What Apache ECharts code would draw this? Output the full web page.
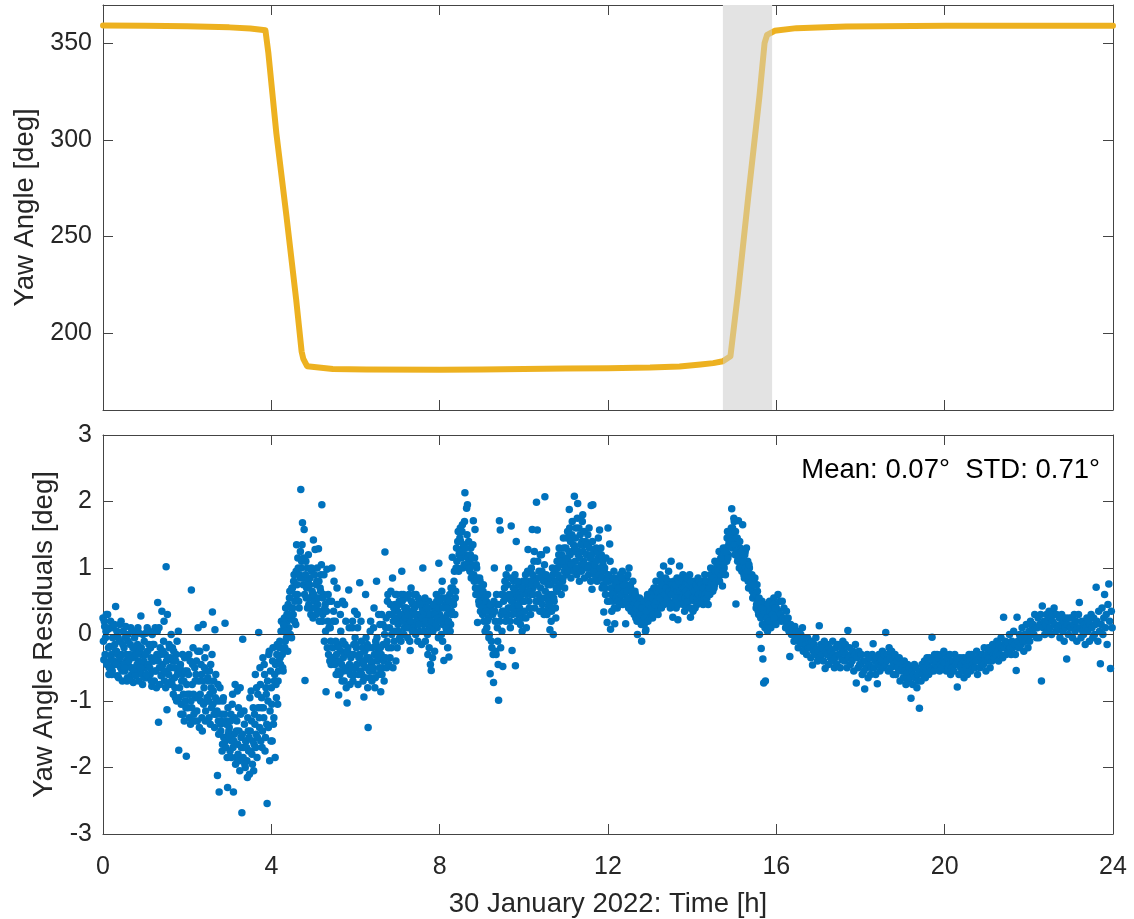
<!DOCTYPE html>
<html>
<head>
<meta charset="utf-8">
<title>Yaw angle and residuals, 30 January 2022</title>
<script src="https://cdn.jsdelivr.net/npm/echarts@6/dist/echarts.min.js"></script>
<style>
  html, body { margin: 0; padding: 0; background: #ffffff; }
  #chart { width: 1134px; height: 919px; }
</style>
</head>
<body>
<div id="chart"></div>
<script>
// ---- Yaw angle trace (hours, degrees) ----
const yawTimes = [0, 1, 2, 3, 3.5, 3.86, 3.93, 4.12, 4.36, 4.59, 4.72, 4.76, 4.85, 5.46, 6.26, 8, 9, 10, 11, 12, 13, 13.7, 14.2, 14.5, 14.73, 14.91, 15.09, 15.33, 15.6, 15.72, 15.78, 15.96, 16.48, 17.66, 20.04, 22, 24];
const yawValues = [359.4, 359.3, 359.0, 358.4, 357.8, 356.9, 345, 303.4, 260.4, 217.3, 190.3, 186.5, 182.7, 181.3, 181.0, 180.9, 181.0, 181.2, 181.5, 181.7, 182.0, 182.6, 183.6, 184.3, 185.3, 187.9, 221, 270, 323, 350.2, 354.5, 356.6, 358.0, 358.8, 359.2, 359.2, 359.3];

// Shaded interval (hours)
const bandStart = 14.73;
const bandEnd = 15.9;

// ---- Yaw angle residuals (deg) ----
// Main samples every 0.02 h starting on the hour (one row per hour).
const residualStep = 0.02;
const residuals00to04 = [
  0.25,-0.38,0.12,-0.05,0.3, -0.42,0.08,-0.6,-0.18,0.2, -0.3,-0.55,0.1,-0.45,-0.15, 0.42,-0.25,-0.62,-0.05,-0.4, 0.15,-0.5,-0.3,-0.7,0.05, -0.2,-0.55,0.12,-0.4,-0.65, -0.1,-0.48,-0.3,0.1,-0.6, -0.35,-0.72,0.05,-0.5,-0.25, -0.6,-0.15,-0.4,0.02,-0.55, 0.28,-0.3,-0.75,-0.45,-0.1,
  -0.5,0.02,-0.65,-0.25,-0.45, 0.05,-0.6,-0.35,-0.78,-0.15, -0.4,-0.7,0.1,-0.55,-0.3, 0.48,-1.32,-0.5,-0.2,-0.62, 0.35,-0.45,-0.1,-0.7,-0.3, 1.02,-1.13,-0.35,-0.6,-0.2, -0.5,0.0,-0.75,-0.4,-0.25, -0.65,-0.95,-0.3,-0.1,-0.55, -1.74,-0.8,-0.45,-1.05,-0.6, -1.2,-0.7,-0.35,-1.0,-1.83,
  -0.55,-1.1,-0.3,-0.9,-1.35, 0.67,-0.75,-0.2,-1.2,-0.5, -0.95,-0.4,-1.3,0.1,-0.7, -0.25,-1.0,-0.6,-1.45,0.15, -0.8,-0.35,-1.15,-0.55,-1.0, -0.7,-1.25,-0.9,-0.45,-1.1, 0.34,-0.85,-1.2,0.07,-0.6, -1.0,-2.12,-1.3,-2.37,-0.8, -1.45,-1.2,-1.65,-0.95,-1.55, 0.17,-1.7,-1.3,-2.3,-1.5,
  -1.4,-1.75,-1.2,-1.6,-0.9, -2.37,-1.5,-0.75,-1.85,-1.3, -1.65,-1.1,-1.9,-0.8,-1.55, -2.68,-0.07,-1.7,-1.35,-2.0, -1.6,-1.9,-1.25,-1.75,-2.1, -1.45,-0.85,-1.8,-1.6,-2.05, -1.2,-0.6,-1.5,-1.85,-0.9, 0.03,-1.4,-0.75,-1.1,-1.7, -0.35,-1.25,-0.6,-1.55,-0.9, -2.54,-1.0,-0.3,-1.9,-0.55
];
const residuals04to08 = [
  -0.8,-1.6,-0.2,-1.25,-0.6, -0.45,-0.95,-0.15,-0.7,-0.4, -0.1,-0.45,0.2,-0.3,-0.55, 0.1,-0.2,0.4,-0.05,0.2, 0.45,0.1,0.65,0.25,-0.05, 0.7,0.3,0.9,0.5,0.15, 1.35,0.6,1.0,0.4,0.85, 2.18,1.1,1.68,0.75,1.58, -0.69,1.1,0.7,0.4,1.2, 0.55,0.85,0.3,0.95,0.6,
  1.42,0.5,1.28,0.3,0.8, 0.45,1.29,0.2,0.7,0.9, 1.95,0.3,0.6,-0.1,0.45, -0.86,0.98,0.2,-0.3,0.5, 0.1,-0.45,1.0,-0.2,0.35, -0.35,0.2,-0.6,0.7,-0.15, -0.91,-0.4,0.3,-0.25,-0.7, -0.1,-0.55,0.45,-0.3,-0.8, -1.03,-0.2,0.67,-0.45,-0.6, -0.3,0.1,-0.7,-0.15,0.35,
  -0.5,-0.2,0.3,-0.75,-0.35, 0.78,-0.55,-0.1,-0.4,-0.7, -0.94,-0.25,0.6,-0.5,-0.15, -1.4,-0.35,-0.65,0.2,-0.45, -0.2,-0.55,0.4,-0.8,-0.1, 0.8,-0.4,-0.25,-0.6,0.15, -0.86,0.3,-0.5,-0.15,-0.7, 1.24,0.1,-0.5,0.5,-0.2, 0.3,-0.35,0.65,0.0,0.85, 0.2,-0.1,0.45,-0.4,0.6,
  0.35,0.05,0.5,0.2,-0.1, 0.95,0.3,0.6,0.1,0.4, 0.2,0.55,-0.05,0.35,0.15, -0.24,0.7,0.3,0.45,0.1, 0.4,0.15,0.6,0.25,-0.1, 0.3,0.05,0.5,0.2,0.4, 1.0,0.15,0.45,-0.1,0.3, 0.25,-0.3,0.5,0.1,-0.45, -0.54,0.3,0.05,0.4,-0.25, 0.35,0.6,0.1,0.45,1.07
];
const residuals08to12 = [
  0.3,0.55,0.0,0.8,0.15, -0.39,0.2,0.45,0.05,0.3, 0.4,-0.34,0.6,0.15,0.35, 1.16,0.5,0.8,0.3,0.65, 1.3,1.0,1.55,1.2,1.45, 1.4,1.15,1.65,1.3,1.05, 2.13,1.2,1.9,1.95,1.0, 1.1,0.95,1.3,1.05,0.9, 1.71,0.8,1.58,0.6,1.0, 0.18,0.65,0.45,0.8,0.55,
  0.55,0.3,0.75,0.45,0.05, 0.4,0.1,0.6,0.25,0.0, -0.59,0.4,-0.2,0.3,-0.72, 1.0,0.2,-0.3,0.45,-0.1, -0.99,1.71,1.57,0.3,0.05, -0.48,0.5,0.7,0.3,0.9, 0.55,0.3,1.0,0.4,0.1, 1.63,-0.24,0.6,0.8,0.35, -0.47,1.4,0.55,0.3,0.75, 0.4,0.15,0.6,0.05,0.8,
  0.65,0.35,0.9,0.1,0.75, 1.28,0.5,0.8,0.3,1.0, 1.58,0.7,1.1,0.4,0.85, 1.99,1.57,0.6,0.95,0.35, 0.7,1.2,0.45,0.9,0.3, 2.07,0.55,1.27,0.8,0.4, 0.6,0.07,0.85,0.35,1.0, 0.0,0.5,0.8,0.25,0.65, 1.0,0.7,1.3,0.85,1.1, 1.2,0.8,1.45,0.95,1.05,
  1.3,0.9,1.55,1.1,1.88, 1.2,0.85,1.5,1.0,1.35, 2.08,1.1,1.6,0.9,1.97, 1.25,0.8,1.5,1.05,1.4, 1.8,1.1,0.85,1.35,1.0, 1.2,1.5,0.9,1.3,1.05, 1.94,0.68,1.95,1.1,0.9, 1.0,1.3,0.8,1.15,0.95, 1.57,0.9,1.2,0.7,1.05, 0.34,1.0,0.6,0.85,0.18
];
const residuals12to16 = [
  1.6,0.8,1.36,0.08,0.6, 0.7,0.5,0.95,0.16,0.8, 0.65,0.4,0.85,0.55,0.75, 0.7,0.5,0.95,0.6,0.8, 0.6,0.16,0.85,0.45,0.7, 1.0,0.5,0.7,0.4,0.6, 0.45,0.3,0.65,0.25,0.5, 0.0,0.35,0.5,0.2,0.4, -0.1,0.3,0.45,0.15,0.35, 0.07,0.4,0.6,0.3,0.5,
  0.45,0.3,0.65,0.25,0.5, 0.55,0.4,0.8,0.35,0.6, 0.6,0.45,0.9,0.5,0.75, 0.65,1.03,0.5,0.8,0.55, 0.7,0.5,0.95,0.6,0.4, 1.1,0.65,0.26,0.8,0.5, 0.6,0.4,0.85,0.22,0.7, 1.03,0.6,0.75,0.5,0.9, 0.6,0.35,0.8,0.45,0.7, 0.65,0.5,0.9,0.26,0.7,
  0.6,0.35,0.8,0.5,0.7, 0.65,0.45,0.85,0.55,0.75, 0.65,0.5,0.8,0.45,0.7, 0.9,0.5,0.65,0.75,0.45, 0.8,0.6,1.0,0.7,0.9, 0.9,0.7,1.1,0.8,1.0, 1.0,0.85,1.25,0.9,1.15, 1.1,0.73,1.3,1.0,1.2, 1.3,1.1,1.55,1.2,1.4, 1.5,1.35,1.89,1.6,1.45,
  1.7,1.2,0.46,1.4,1.1, 1.71,1.0,1.3,1.15,0.95, 1.65,1.05,0.85,1.25,0.95, 0.9,1.1,0.7,1.0,0.8, 0.7,0.9,0.55,0.8,0.6, 0.55,0.4,0.75,0.5,0.3, 0.0,0.35,-0.21,0.5,-0.37, -0.73,0.3,-0.7,0.45,0.2, 0.3,0.15,0.5,0.25,0.4, 0.35,0.2,0.55,0.3,0.45
];
const residuals16to20 = [
  0.4,0.25,0.6,0.35,0.5, 0.3,0.2,0.5,0.25,0.4, 0.2,0.1,0.35,0.15,0.25, 0.05,-0.33,0.15,0.0,0.1, 0.0,-0.1,0.12,-0.05,0.05, -0.07,-0.2,0.05,-0.12,0.0, -0.13,0.1,-0.25,-0.05,-0.2, -0.15,-0.3,-0.05,-0.2,-0.1, -0.2,-0.35,-0.1,-0.46,-0.25, -0.15,-0.3,-0.05,-0.22,-0.4,
  -0.25,0.13,-0.35,-0.15,-0.3, -0.2,-0.4,-0.1,-0.51,-0.25, -0.3,-0.15,-0.45,-0.2,-0.35, -0.25,-0.4,-0.1,-0.3,-0.5, -0.35,-0.2,-0.45,-0.15,-0.3, -0.3,-0.5,-0.2,-0.38,-0.1, -0.25,-0.4,-0.15,-0.3,-0.5, 0.06,-0.35,-0.2,-0.45,-0.3, -0.4,-0.25,-0.55,-0.3,-0.15, -0.73,-0.35,-0.5,-0.25,-0.45,
  -0.45,-0.3,-0.6,-0.4,-0.55, -0.82,-0.4,-0.5,-0.3,-0.65, -0.45,-0.35,-0.6,-0.5,-0.3, -0.14,-0.5,-0.4,-0.6,-0.35, -0.74,-0.45,-0.3,-0.55,-0.4, -0.38,-0.25,-0.5,-0.3,-0.45, 0.03,-0.4,-0.3,-0.55,-0.2, -0.35,-0.5,-0.25,-0.4,-0.6, -0.45,-0.3,-0.6,-0.4,-0.5, -0.5,-0.35,-0.7,-0.45,-0.55,
  -0.5,-0.65,-0.4,-0.55,-0.75, -0.58,-0.45,-0.7,-0.5,-0.65, -0.96,-0.55,-0.75,-0.6,-0.45, -0.65,-0.5,-0.8,-0.6,-0.7, -1.11,-0.55,-0.7,-0.45,-0.6, -0.5,-0.4,-0.65,-0.55,-0.35, -0.45,-0.6,-0.35,-0.5,-0.55, -0.04,-0.4,-0.55,-0.3,-0.45, -0.4,-0.3,-0.5,-0.35,-0.55, -0.45,-0.3,-0.5,-0.4,-0.25
];
const residuals20to24 = [
  -0.42,-0.3,-0.55,-0.35,-0.5, -0.45,-0.3,-0.6,-0.4,-0.5, -0.4,-0.55,-0.3,-0.45,-0.35, -0.79,-0.45,-0.6,-0.35,-0.5, -0.45,-0.55,-0.35,-0.65,-0.4, -0.5,-0.35,-0.6,-0.45,-0.3, -0.4,-0.55,-0.3,-0.45,-0.5, -0.35,-0.5,-0.4,-0.25,-0.6, -0.4,-0.3,-0.5,-0.35,-0.45, -0.3,-0.45,-0.2,-0.35,-0.55,
  -0.3,-0.4,-0.2,-0.35,-0.5, -0.25,-0.4,-0.15,-0.3,-0.35, -0.2,-0.3,-0.1,-0.25,-0.4, -0.15,-0.3,-0.05,-0.2,-0.35, 0.26,-0.2,-0.1,-0.3,-0.15, -0.12,-0.25,0.0,-0.2,-0.3, -0.1,-0.2,0.05,-0.15,-0.3, -0.54,0.26,-0.1,-0.2,0.0, -0.05,-0.15,0.1,-0.1,-0.25, 0.0,-0.1,0.15,-0.05,-0.2,
  0.05,-0.1,0.2,0.0,0.1, 0.15,0.0,0.3,0.1,-0.05, 0.1,0.25,-0.05,0.15,0.3, -0.7,0.43,0.1,0.2,0.0, 0.15,0.3,0.05,0.2,0.35, 0.1,0.25,0.0,0.2,0.3, 0.4,0.15,0.05,0.3,0.1, 0.1,0.25,-0.05,0.15,0.3, 0.05,0.2,-0.1,0.1,0.25, -0.37,0.15,0.0,0.25,0.1,
  0.1,0.25,-0.05,0.15,0.3, 0.05,0.2,-0.1,0.1,0.3, 0.48,0.1,-0.05,0.2,0.05, 0.0,0.15,-0.15,0.1,0.25, 0.05,0.2,-0.1,0.15,0.3, 0.1,-0.05,0.25,0.0,0.15, 0.71,0.2,-0.1,0.35,0.05, -0.44,0.15,0.4,0.0,0.25, 0.6,0.1,0.3,-0.15,0.45, 0.76,0.2,-0.51,0.35,0.1
];

// Intermediate samples, offset by 0.01 h from the main grid (0-16 h).
const interleaveOffset = 0.01;
const residualsMid00to04 = [
  -0.1,0.2,-0.3,0.05,-0.45, 0.3,-0.2,-0.5,0.1,-0.35, -0.6,-0.05,-0.4,0.15,-0.25, -0.45,0.05,-0.3,-0.65,-0.1, -0.35,0.2,-0.55,-0.15,-0.45, -0.5,-0.05,-0.3,-0.7,0.0, -0.4,-0.68,-0.15,-0.5,0.05, -0.2,-0.55,-0.05,-0.62,-0.3, -0.45,0.1,-0.7,-0.25,-0.5, -0.2,-0.6,0.0,-0.4,-0.65,
  -0.3,-0.6,0.1,-0.45,-0.15, -0.5,-0.2,-0.7,0.0,-0.4, -0.15,-0.55,-0.35,-0.8,0.05, -0.4,0.1,-0.75,-0.3,-0.5, -0.6,-0.25,0.2,-0.55,-0.8, -0.4,0.3,-0.75,-0.15,-0.5, -0.35,-0.7,-0.2,-0.9,-0.5, -0.8,-0.4,-1.0,-0.6,0.05, -0.95,-0.5,-1.2,-0.7,-0.3, -0.9,-1.3,-0.55,-1.1,-0.75,
  -0.9,-0.6,-1.25,-0.4,-1.0, -1.1,-0.45,-0.9,-1.3,-0.7, -0.6,-1.15,-0.25,-0.95,-1.4, -0.9,-0.45,-1.25,-0.7,-1.05, -0.5,-1.3,-0.2,-0.95,-0.65, -1.0,-0.55,-1.35,-0.8,-0.3, -1.05,-0.7,-1.4,-0.95,-1.2, -1.15,-0.75,-1.5,-1.0,-1.35, -1.3,-1.75,-1.0,-1.55,-1.2, -1.6,-1.35,-1.85,-1.1,-1.45,
  -1.55,-1.3,-1.85,-1.05,-1.7, -1.6,-1.25,-1.95,-1.45,-0.85, -1.8,-1.45,-2.05,-1.2,-1.7, -1.5,-1.85,-1.15,-1.95,-1.6, -1.7,-2.15,-1.45,-1.55,-0.95, -1.75,-1.3,-1.95,-1.1,-1.65, -1.35,-1.7,-0.8,-1.55,-1.1, -1.25,-0.5,-1.6,-0.95,-1.45, -1.1,-0.45,-1.75,-0.8,-1.35, -0.7,-1.4,-0.25,-1.15,-1.6
];
const residualsMid04to08 = [
  -1.05,-0.4,-1.35,-0.7,-1.85, -0.75,-0.3,-1.05,-0.55,-0.2, -0.35,0.05,-0.2,-0.5,0.15, 0.25,-0.1,0.05,0.3,-0.25, 0.3,0.55,0.0,0.4,0.7, 0.4,0.8,0.2,0.6,0.95, 0.75,1.15,0.5,0.9,1.25, 1.0,1.35,0.85,1.15,0.6, 0.9,0.55,1.0,0.8,0.45, 0.75,0.4,1.0,0.65,0.25,
  0.6,0.9,0.4,0.75,1.0, 0.55,0.8,0.35,0.65,1.05, 0.2,0.55,0.9,0.4,0.05, 0.35,-0.2,0.6,0.1,-0.4, -0.1,0.5,-0.35,0.2,0.8, -0.45,-0.1,-0.3,0.45,-0.55, -0.2,-0.6,0.05,-0.45,0.5, -0.35,-0.7,-0.15,0.2,-0.5, -0.25,-0.55,0.1,-0.75,-0.35, -0.5,0.2,-0.3,-0.6,-0.05,
  -0.15,-0.45,0.1,-0.6,-0.3, -0.3,0.2,-0.6,-0.2,-0.45, -0.4,-0.65,-0.05,-0.35,-0.8, -0.2,-0.55,0.05,-0.4,-0.7, -0.5,0.1,-0.3,-0.65,-0.15, -0.05,-0.35,0.3,-0.5,-0.2, -0.3,-0.6,0.15,-0.4,0.0, -0.35,0.25,-0.1,0.6,-0.45, 0.1,0.45,-0.2,0.3,-0.5, 0.4,0.05,0.6,0.25,-0.2,
  0.15,0.45,-0.05,0.3,0.6, 0.5,0.2,0.0,0.4,0.25, 0.4,0.1,0.3,0.6,-0.1, 0.2,0.5,0.05,0.35,0.6, 0.3,0.0,0.45,0.2,0.55, 0.15,0.45,0.3,-0.15,0.25, 0.35,0.05,0.55,0.2,0.4, 0.0,0.4,-0.2,0.3,0.15, 0.2,-0.35,0.45,0.1,0.3, 0.15,0.5,0.25,-0.05,0.4
];
const residualsMid08to12 = [
  0.5,0.2,0.65,-0.1,0.4, 0.25,0.55,0.1,0.4,-0.2, 0.2,0.5,0.05,0.7,0.3, 0.7,0.45,0.95,0.55,1.0, 1.1,1.4,0.95,1.25,1.6, 1.25,1.55,1.0,1.35,1.7, 1.3,1.05,1.5,1.15,1.4, 1.0,1.2,0.85,1.15,1.35, 0.9,1.15,0.7,1.05,0.85, 0.7,0.5,0.85,0.35,0.6,
  0.4,0.65,0.2,0.55,0.35, 0.5,0.2,0.35,-0.05,0.45, 0.45,-0.1,0.35,-0.3,0.5, 0.35,-0.25,0.6,0.1,-0.45, 0.45,0.2,-0.2,0.6,0.35, 0.6,0.35,0.8,0.2,0.55, 0.75,0.4,0.6,0.2,0.85, 0.5,0.3,0.7,0.45,0.9, 0.65,0.2,0.8,0.45,0.6, 0.55,0.3,0.7,0.25,0.5,
  0.5,0.8,0.25,0.6,0.95, 0.65,0.4,0.95,0.6,0.75, 0.9,0.6,1.25,0.8,0.5, 0.75,1.1,0.5,0.85,1.2, 0.55,0.95,0.35,0.8,1.05, 0.65,0.9,0.3,0.75,0.5, 0.45,0.75,0.2,0.6,0.9, 0.55,0.95,0.4,0.7,1.1, 0.9,1.2,0.75,1.05,0.6, 1.1,0.85,1.3,0.7,1.0,
  1.15,1.45,0.95,1.25,1.6, 1.4,1.05,1.7,1.25,0.95, 1.3,1.45,1.0,1.75,1.2, 1.6,1.15,1.35,0.95,1.7, 1.25,1.55,1.05,1.4,1.2, 1.35,1.0,1.6,1.15,0.8, 1.2,1.4,0.95,1.25,1.05, 1.1,0.85,1.25,1.45,0.9, 1.0,1.3,0.85,1.1,0.75, 0.95,0.7,1.15,0.8,0.5
];
const residualsMid12to16 = [
  0.9,0.5,1.1,0.7,0.35, 0.6,0.85,0.4,0.75,0.55, 0.8,0.5,0.7,0.45,0.9, 0.6,0.85,0.45,0.75,0.65, 0.75,0.5,0.65,0.9,0.4, 0.55,0.75,0.35,0.65,0.8, 0.55,0.35,0.6,0.4,0.2, 0.45,0.25,0.55,0.3,0.15, 0.4,0.2,0.5,0.25,0.05, 0.35,0.55,0.2,0.45,0.6,
  0.6,0.4,0.55,0.3,0.7, 0.45,0.7,0.5,0.65,0.3, 0.7,0.55,0.8,0.4,0.65, 0.75,0.45,0.6,0.85,0.7, 0.55,0.8,0.65,0.45,0.75, 0.6,0.75,0.45,0.7,0.55, 0.75,0.5,0.65,0.45,0.8, 0.65,0.85,0.55,0.7,0.45, 0.7,0.55,0.65,0.85,0.5, 0.6,0.75,0.4,0.8,0.55,
  0.7,0.55,0.65,0.4,0.75, 0.55,0.7,0.6,0.8,0.5, 0.75,0.55,0.6,0.7,0.55, 0.6,0.8,0.55,0.7,0.6, 0.7,0.9,0.75,0.85,0.65, 0.85,0.75,0.95,0.8,1.05, 0.95,1.1,0.8,1.05,0.9, 1.15,0.95,1.05,1.25,0.9, 1.25,1.45,1.15,1.35,1.5, 1.4,1.6,1.3,1.55,1.75,
  1.35,1.55,1.25,1.45,1.15, 1.2,1.4,1.05,1.25,1.1, 1.1,0.9,1.2,1.0,1.3, 0.95,0.8,1.05,0.85,0.75, 0.8,0.65,0.75,0.6,0.85, 0.6,0.45,0.65,0.35,0.55, 0.45,0.25,0.4,0.15,0.3, 0.35,0.1,0.4,0.25,0.05, 0.45,0.2,0.35,0.1,0.3, 0.3,0.45,0.25,0.4,0.15
];

const residualBlocks = [residuals00to04, residuals04to08, residuals08to12, residuals12to16, residuals16to20, residuals20to24];
const residualMidBlocks = [residualsMid00to04, residualsMid04to08, residualsMid08to12, residualsMid12to16];
const blockLengthHours = 4;

// Summary statistics printed in the residual panel
const residualMean = 0.07;
const residualStd = 0.71;

// Axis tick values
const hourTicks = [0, 4, 8, 12, 16, 20, 24];
const yawTicks = [200, 250, 300, 350];
const residualTicks = [-3, -2, -1, 0, 1, 2, 3];

// ---- Build series data ----
const yawData = yawTimes.map((t, i) => [t, yawValues[i]]);
const residualData = [];
function addBlocks(blocks, offset) {
  blocks.forEach((block, b) => {
    block.forEach((v, i) => {
      const t = Math.round((b * blockLengthHours + offset + i * residualStep) * 1000) / 1000;
      residualData.push([t, v]);
    });
  });
}
addBlocks(residualBlocks, 0);
addBlocks(residualMidBlocks, interleaveOffset);

// ---- Styling ----
const FONT = '"Liberation Sans", Arial, Helvetica, sans-serif';
const AXIS_COLOR = '#444444';
const TEXT_COLOR = '#262626';
const YAW_COLOR = '#EDB120';
const YAW_SHADED_COLOR = '#DFC276';
const RESID_COLOR = '#0072BD';
const BAND_COLOR = '#e3e3e3';

// One edge of a boxed axes frame: line plus inward ticks at the given values.
function frameAxis(gridIndex, position, range, ticks, extra) {
  return Object.assign({
    type: 'value',
    gridIndex: gridIndex,
    position: position,
    min: range[0],
    max: range[1],
    axisLine: { show: true, onZero: false, lineStyle: { color: AXIS_COLOR, width: 1 } },
    axisTick: { show: true, inside: true, length: 10, customValues: ticks, lineStyle: { color: AXIS_COLOR, width: 1 } },
    axisLabel: { show: false },
    splitLine: { show: false }
  }, extra || {});
}

const hourRange = [0, 24];
const yawRange = [160, 370];
const residRange = [-3, 3];

const tickLabel = { color: TEXT_COLOR, fontFamily: FONT, fontSize: 25 };
const nameStyle = { color: TEXT_COLOR, fontFamily: FONT, fontSize: 27.5 };

const option = {
  animation: false,
  backgroundColor: '#ffffff',
  grid: [
    { left: 103, top: 5, width: 1010, height: 405 },
    { left: 103, top: 435, width: 1010, height: 402 }
  ],
  xAxis: [
    frameAxis(0, 'bottom', hourRange, hourTicks),
    frameAxis(0, 'top', hourRange, hourTicks),
    frameAxis(1, 'bottom', hourRange, hourTicks, {
      axisLabel: Object.assign({ show: true, margin: 21, customValues: hourTicks }, tickLabel),
      name: '30 January 2022: Time [h]',
      nameLocation: 'middle',
      nameGap: 56,
      nameTextStyle: nameStyle
    }),
    frameAxis(1, 'top', hourRange, hourTicks)
  ],
  yAxis: [
    frameAxis(0, 'left', yawRange, yawTicks, {
      axisLabel: Object.assign({ show: true, margin: 11, customValues: yawTicks }, tickLabel),
      name: 'Yaw Angle [deg]',
      nameLocation: 'middle',
      nameGap: 55,
      nameTextStyle: nameStyle
    }),
    frameAxis(0, 'right', yawRange, yawTicks),
    frameAxis(1, 'left', residRange, residualTicks, {
      axisLabel: Object.assign({ show: true, margin: 11, customValues: residualTicks }, tickLabel),
      name: 'Yaw Angle Residuals [deg]',
      nameLocation: 'middle',
      nameGap: 31,
      nameTextStyle: nameStyle
    }),
    frameAxis(1, 'right', residRange, residualTicks)
  ],
  visualMap: [{
    show: false,
    type: 'piecewise',
    seriesIndex: 1,
    dimension: 0,
    pieces: [
      { lt: bandStart, color: YAW_COLOR },
      { gte: bandStart, lte: bandEnd, color: YAW_SHADED_COLOR },
      { gt: bandEnd, color: YAW_COLOR }
    ]
  }],
  series: [
    {
      name: 'shaded interval',
      type: 'line',
      xAxisIndex: 0,
      yAxisIndex: 0,
      data: [],
      z: 1,
      silent: true,
      markArea: {
        silent: true,
        itemStyle: { color: BAND_COLOR },
        data: [[{ xAxis: bandStart }, { xAxis: bandEnd }]]
      }
    },
    {
      name: 'Yaw angle',
      type: 'line',
      xAxisIndex: 0,
      yAxisIndex: 0,
      data: yawData,
      showSymbol: false,
      z: 3,
      lineStyle: { width: 6, cap: 'round', join: 'round' }
    },
    {
      name: 'Residuals',
      type: 'scatter',
      xAxisIndex: 2,
      yAxisIndex: 2,
      data: residualData,
      symbolSize: 7.5,
      itemStyle: { color: RESID_COLOR, opacity: 1 },
      z: 3,
      markLine: {
        silent: true,
        symbol: 'none',
        label: { show: false },
        lineStyle: { color: '#333333', width: 1, type: 'solid' },
        data: [{ yAxis: 0 }]
      }
    }
  ],
  graphic: [{
    type: 'text',
    right: 34,
    top: 456,
    style: {
      text: 'Mean: ' + residualMean.toFixed(2) + '\u00b0  STD: ' + residualStd.toFixed(2) + '\u00b0',
      fill: '#000000',
      font: '27.5px ' + FONT
    }
  }]
};

const chart = echarts.init(document.getElementById('chart'), null, { renderer: 'canvas' });
chart.setOption(option);
</script>
</body>
</html>
